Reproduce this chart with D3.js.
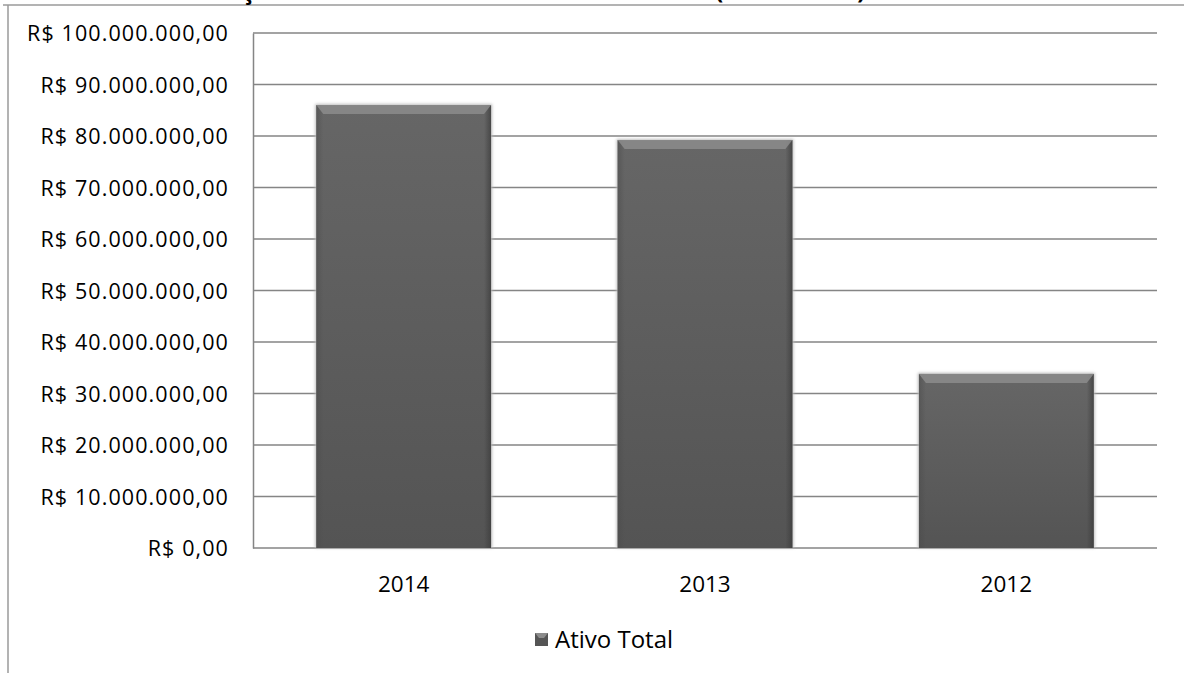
<!DOCTYPE html>
<html><head><meta charset="utf-8">
<script src="https://cdn.jsdelivr.net/npm/d3@7"></script>
<style>body{margin:0;background:#fff}svg{display:block}</style>
</head><body>
<svg id="c" width="1184" height="673"></svg>
<script>
const categories = ["2014", "2013", "2012"];
const values = [86000000, 79200000, 33800000];
const yTicks = [0,10000000,20000000,30000000,40000000,50000000,60000000,70000000,80000000,90000000,100000000];
const seriesName = "Ativo Total";
const titleText = "Evolução do Ativo Total nos últimos três anos (2012 a 2014)";

const svg = d3.select("#c");
const font = "'Open Sans', sans-serif";
const m = {left:253, right:1157, top:33, bottom:548};

const fmt = v => {
  const s = Math.round(v).toString().replace(/\B(?=(\d{3})+(?!\d))/g, ".");
  return "R$ " + s + ",00";
};

// outer frame
svg.append("line").attr("x1",3).attr("x2",1184).attr("y1",5).attr("y2",5).attr("stroke","#9a9a9a").attr("stroke-width",1.5);
svg.append("line").attr("x1",8).attr("x2",8).attr("y1",5).attr("y2",673).attr("stroke","#9a9a9a").attr("stroke-width",1.5);

// title (cut off at top, as in the reference)
svg.append("text").attr("x",178).attr("y",-1).attr("text-anchor","start")
  .attr("font-family",font).attr("font-weight","bold").attr("font-size",23.5).text(titleText);

const x = d3.scaleBand().domain(categories).range([m.left,m.right]).paddingInner(0.42).paddingOuter(0.21);
const y = d3.scaleLinear().domain([0,100000000]).range([m.bottom,m.top]);

// gridlines
svg.append("g").selectAll("line").data(yTicks).join("line")
  .attr("x1",m.left).attr("x2",m.right).attr("y1",d=>y(d)).attr("y2",d=>y(d))
  .attr("stroke","#858585").attr("stroke-width",1.5);

// y axis
const ya = svg.append("g").attr("transform",`translate(${m.left},0)`)
  .call(d3.axisLeft(y).tickValues(yTicks).tickFormat(fmt).tickSize(0).tickPadding(24));
ya.select(".domain").attr("stroke","#858585").attr("stroke-width",1.5);
ya.selectAll("text").attr("font-family",font).attr("font-size",21.5).attr("letter-spacing","1.1px")
  .attr("fill","#000").attr("dy","0.36em");

// defs
const defs = svg.append("defs");
const g1 = defs.append("linearGradient").attr("id","body").attr("x1",0).attr("x2",0).attr("y1",0).attr("y2",1);
g1.append("stop").attr("offset","0").attr("stop-color","#666");
g1.append("stop").attr("offset","1").attr("stop-color","#545454");
const g2 = defs.append("linearGradient").attr("id","side").attr("x1",0).attr("x2",1).attr("y1",0).attr("y2",0);
g2.append("stop").attr("offset","0").attr("stop-color","#4a4a4a").attr("stop-opacity",0.5);
g2.append("stop").attr("offset","0.04").attr("stop-color","#4a4a4a").attr("stop-opacity",0);
g2.append("stop").attr("offset","0.96").attr("stop-color","#3a3a3a").attr("stop-opacity",0);
g2.append("stop").attr("offset","1").attr("stop-color","#3a3a3a").attr("stop-opacity",0.7);
const blur = defs.append("filter").attr("id","sh").attr("x","-10%").attr("y","-10%").attr("width","120%").attr("height","120%");
blur.append("feGaussianBlur").attr("stdDeviation",1.5);

// bars
const bars = svg.append("g").selectAll("g").data(categories).join("g");
bars.append("rect").attr("x",d=>x(d)-1).attr("y",(d,i)=>y(values[i])-1)
  .attr("width",x.bandwidth()+2).attr("height",(d,i)=>y(0)-y(values[i])+1)
  .attr("fill","#bbb").attr("filter","url(#sh)");
bars.append("rect").attr("x",d=>x(d)).attr("y",(d,i)=>y(values[i]))
  .attr("width",x.bandwidth()).attr("height",(d,i)=>y(0)-y(values[i]))
  .attr("fill","url(#body)");
bars.append("rect").attr("x",d=>x(d)).attr("y",(d,i)=>y(values[i]))
  .attr("width",x.bandwidth()).attr("height",(d,i)=>y(0)-y(values[i]))
  .attr("fill","url(#side)");
// top bevel
bars.append("path").attr("d",(d,i)=>{
  const x0=x(d), x1=x(d)+x.bandwidth(), t=y(values[i]);
  return `M${x0},${t}L${x1},${t}L${x1-7},${t+9}L${x0+7},${t+9}Z`;
}).attr("fill","#8c8c8c").attr("opacity",0.85);

// x labels
svg.append("g").selectAll("text").data(categories).join("text")
  .attr("x",d=>x(d)+x.bandwidth()/2).attr("y",592).attr("text-anchor","middle")
  .attr("font-family",font).attr("font-size",22.5).text(d=>d);

// legend
svg.append("rect").attr("x",535).attr("y",633).attr("width",13).attr("height",13).attr("fill","#555");
svg.append("path").attr("d","M535,633L548,633L544,638L539,638Z").attr("fill","#8c8c8c");
svg.append("text").attr("x",555).attr("y",648).attr("font-family",font).attr("font-size",24).text(seriesName);
</script>
</body></html>
